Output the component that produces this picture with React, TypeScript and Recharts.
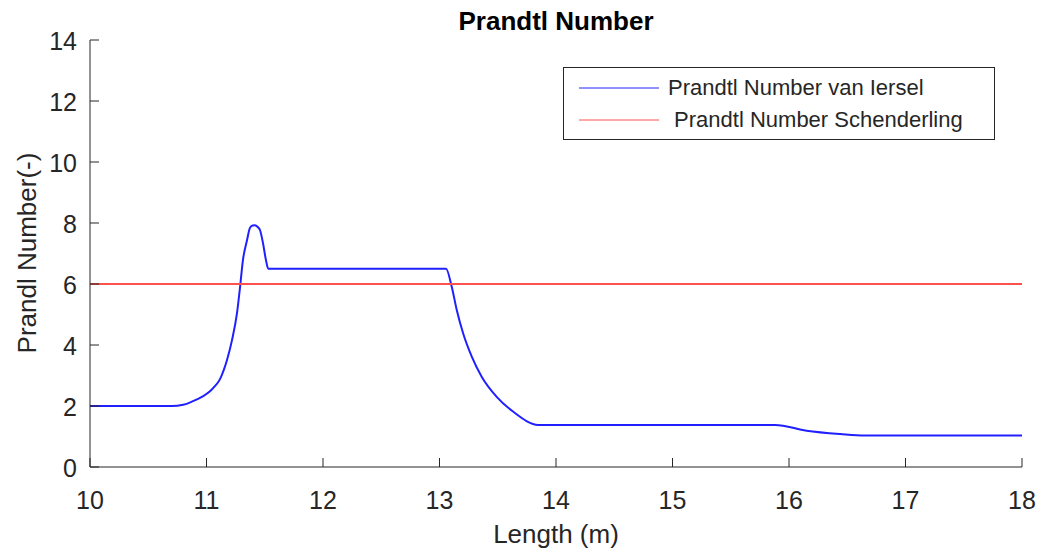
import { LineChart, Line, XAxis, YAxis, Legend } from 'recharts';

// Prandtl number along the length
const lengthVanIersel = [
  10, 10.6, 10.7, 10.8, 10.884, 10.96, 11.03, 11.07, 11.116, 11.15, 11.176, 11.219, 11.262, 11.288, 11.313,
  11.348, 11.373, 11.395, 11.416, 11.44, 11.459, 11.485, 11.51, 11.53,
  13.056, 13.105, 13.148, 13.204, 13.277, 13.362, 13.491, 13.634, 13.848,
  15.88, 16.15, 16.44, 16.65, 18,
];
const prVanIersel = [
  2.0, 2.0, 2.0, 2.04, 2.16, 2.3, 2.48, 2.64, 2.88, 3.2, 3.51, 4.16, 5.05, 5.9, 6.79,
  7.44, 7.84, 7.92, 7.93, 7.87, 7.77, 7.34, 6.79, 6.5,
  6.5, 5.91, 5.15, 4.37, 3.62, 2.96, 2.3, 1.81, 1.38,
  1.38, 1.19, 1.08, 1.03, 1.03,
];
const lengthSchenderling = [10, 18];
const prSchenderling = [6, 6];

const seriesNames = ['Prandtl Number van Iersel', ' Prandtl Number Schenderling'];
const xTicks = [10, 11, 12, 13, 14, 15, 16, 17, 18];
const yTicks = [0, 2, 4, 6, 8, 10, 12, 14];

const vanIersel = lengthVanIersel.map((x, i) => ({ x, pr: prVanIersel[i] }));
const schenderling = lengthSchenderling.map((x, i) => ({ x, pr: prSchenderling[i] }));

const FONT = '"Liberation Sans", Arial, Helvetica, sans-serif';
const INK = '#262626';

// MATLAB-style ticks: short marks pointing into the plot
const XTick = (props: any) => {
  const { x, y, payload } = props;
  return (
    <g>
      <line x1={x} x2={x} y1={y} y2={y - 9} stroke={INK} />
      <text x={x} y={y + 42} textAnchor="middle" fontSize={25} fill={INK} fontFamily={FONT}>
        {payload.value}
      </text>
    </g>
  );
};

const YTick = (props: any) => {
  const { x, y, payload } = props;
  return (
    <g>
      <line x1={x} x2={x + 9} y1={y} y2={y} stroke={INK} />
      <text x={x - 13} y={y + 10} textAnchor="end" fontSize={25} fill={INK} fontFamily={FONT}>
        {payload.value}
      </text>
    </g>
  );
};

const LegendBox = (props: any) => {
  const items = [...(props.payload || [])].sort(
    (a: any, b: any) => seriesNames.indexOf(a.value) - seriesNames.indexOf(b.value)
  );
  return (
    <div style={{
      width: 430, height: 71, border: `1px solid ${INK}`, background: 'white',
      fontFamily: FONT, fontSize: 22, color: INK, boxSizing: 'content-box',
    }}>
      {items.map((it: any, i: number) => (
        <div key={i} style={{ display: 'flex', alignItems: 'center', height: 32, marginTop: i === 0 ? 4 : 0 }}>
          <svg width={95} height={10} style={{ flex: 'none' }}>
            <line x1={15} x2={95} y1={5} y2={5} stroke={it.color} strokeWidth={1} />
          </svg>
          <span style={{ marginLeft: 9, whiteSpace: 'pre' }}>{it.value}</span>
        </div>
      ))}
    </div>
  );
};

export default function App() {
  return (
    <div style={{ position: 'absolute', left: 0, top: 0, width: 1041, height: 556, background: 'white' }}>
      <LineChart width={1041} height={556} margin={{ top: 40, right: 19, bottom: 0, left: 0 }}>
        <XAxis
          dataKey="x" type="number" domain={[10, 18]} ticks={xTicks} height={89}
          axisLine={{ stroke: INK }} tickLine={false} tickSize={0} tickMargin={0} tick={<XTick />}
          allowDuplicatedCategory={false}
        />
        <YAxis
          type="number" domain={[0, 14]} ticks={yTicks} width={90}
          axisLine={{ stroke: INK }} tickLine={false} tickSize={0} tickMargin={0} tick={<YTick />}
        />
        <Legend
          layout="vertical" align="center" verticalAlign="middle"
          wrapperStyle={{ left: 563, top: 67, width: 432 }}
          content={<LegendBox />}
        />
        <Line data={vanIersel} dataKey="pr" name={seriesNames[0]} type="monotone"
          stroke="#2020ff" strokeWidth={2} dot={false} isAnimationActive={false} />
        <Line data={schenderling} dataKey="pr" name={seriesNames[1]} type="linear"
          stroke="#ff5050" strokeWidth={2} dot={false} isAnimationActive={false} />
      </LineChart>

      <div style={{
        position: 'absolute', left: 0, width: 1112, top: 8, textAlign: 'center',
        fontFamily: FONT, fontWeight: 'bold', fontSize: 26, lineHeight: '26px', color: '#000',
      }}>
        Prandtl Number
      </div>
      <div style={{
        position: 'absolute', left: 0, width: 1112, top: 521, textAlign: 'center',
        fontFamily: FONT, fontSize: 26, lineHeight: '26px', color: INK,
      }}>
        Length (m)
      </div>
      <div style={{
        position: 'absolute', left: 27, top: 253, transform: 'translate(-50%, -50%) rotate(-90deg)',
        fontFamily: FONT, fontSize: 26, lineHeight: '26px', color: INK, whiteSpace: 'nowrap',
      }}>
        Prandl Number(-)
      </div>
    </div>
  );
}
